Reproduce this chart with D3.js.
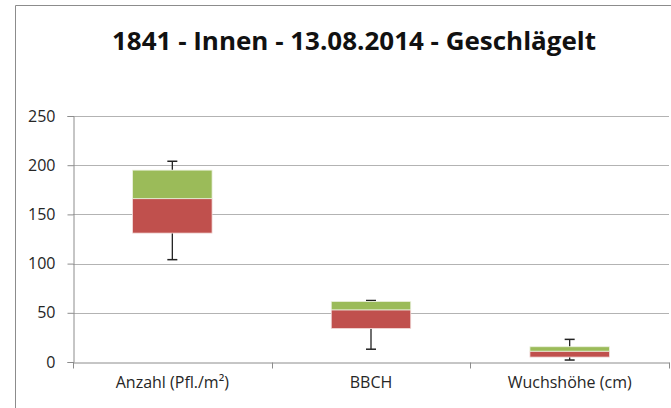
<!DOCTYPE html>
<html>
<head>
<meta charset="utf-8">
<script src="https://cdn.jsdelivr.net/npm/d3@7"></script>
<style>
  body { margin: 0; background: #fff; }
  text { font-family: "Open Sans", "Liberation Sans", sans-serif; }
</style>
</head>
<body>
<div id="chart-area"></div>
<script>
// data
var categories = ["Anzahl (Pfl./m²)", "BBCH", "Wuchshöhe (cm)"];
var minVals    = [104, 13, 2];
var q1Vals     = [131, 34, 5];
var medianVals = [166, 53, 11];
var q3Vals     = [195, 61.5, 15.5];
var maxVals    = [204, 62.5, 23];
var yTicks     = [0, 50, 100, 150, 200, 250];

var W = 671, H = 408;
var margin = { left: 73, right: 2, top: 116, bottom: 46 };
var width = W - margin.left - margin.right,
    height = H - margin.top - margin.bottom;

var svg = d3.select("#chart-area")
    .append("svg")
        .attr("width", W)
        .attr("height", H);

// chart frame
svg.append("path")
    .attr("d", "M15.5," + H + "V5.5H" + W)
    .attr("fill", "none")
    .attr("stroke", "#8c8c8c")
    .attr("stroke-width", 1);

// title
svg.append("text")
    .attr("x", 354)
    .attr("y", 50)
    .attr("text-anchor", "middle")
    .attr("font-size", "25px")
    .attr("font-weight", "bold")
    .attr("fill", "#111")
    .attr("textLength", 484)
    .attr("lengthAdjust", "spacingAndGlyphs")
    .text("1841 - Innen - 13.08.2014 - Geschlägelt");

var g = svg.append("g")
    .attr("transform", "translate(" + margin.left + "," + margin.top + ")");

// scales
var x = d3.scaleBand()
    .domain(categories)
    .range([0, width]);
var y = d3.scaleLinear()
    .domain([0, 250])
    .range([height, 0]);

// gridlines
g.selectAll(".grid").data(yTicks.slice(1)).enter()
    .append("line")
    .attr("class", "grid")
    .attr("x1", 0).attr("x2", width)
    .attr("y1", function(d){ return Math.round(y(d)) + 0.5; })
    .attr("y2", function(d){ return Math.round(y(d)) + 0.5; })
    .attr("stroke", "#b3b3b3");

// Y axis
var yAxis = g.append("g")
    .attr("transform", "translate(0.5,0)")
    .attr("font-size", 16)
    .attr("font-family", null)
    .call(d3.axisLeft(y).tickValues(yTicks).tickSize(6).tickPadding(12));
yAxis.attr("font-size", 16).attr("font-family", null);
yAxis.select(".domain").attr("stroke", "#8c8c8c");
yAxis.selectAll(".tick line").attr("stroke", "#8c8c8c");
yAxis.selectAll(".tick text").attr("fill", "#262626");

// X axis
var xAxis = g.append("g")
    .attr("transform", "translate(0," + (Math.round(height) + 0.5) + ")")
    .call(d3.axisBottom(x).tickSize(0).tickPadding(14));
xAxis.attr("font-size", 16).attr("font-family", null);
xAxis.select(".domain").attr("stroke", "#8c8c8c");
xAxis.selectAll(".tick text").attr("fill", "#262626");
// category separators
var seps = categories.map(function(c){ return x(c); }).concat([width]);
xAxis.selectAll(".sep").data(seps).enter()
    .append("line")
    .attr("class", "sep")
    .attr("x1", function(d){ return Math.round(d) + 0.5; })
    .attr("x2", function(d){ return Math.round(d) + 0.5; })
    .attr("y1", 0).attr("y2", 6)
    .attr("stroke", "#8c8c8c");

var boxW = x.bandwidth() * 0.4;
var rows = categories.map(function(c, i){
    return { cat: c, min: minVals[i], q1: q1Vals[i], med: medianVals[i], q3: q3Vals[i], max: maxVals[i] };
});

var box = g.selectAll(".box").data(rows).enter()
    .append("g")
    .attr("class", "box")
    .attr("transform", function(d){ return "translate(" + (x(d.cat) + x.bandwidth() / 2) + ",0)"; });

// whiskers
box.append("line")
    .attr("x1", 0).attr("x2", 0)
    .attr("y1", function(d){ return y(d.q1); })
    .attr("y2", function(d){ return y(d.min); })
    .attr("stroke", "#222").attr("stroke-width", 1.3);
box.append("line")
    .attr("x1", 0).attr("x2", 0)
    .attr("y1", function(d){ return y(d.q3); })
    .attr("y2", function(d){ return y(d.max); })
    .attr("stroke", "#222").attr("stroke-width", 1.3);
box.append("line")
    .attr("x1", -5).attr("x2", 5)
    .attr("y1", function(d){ return y(d.min); })
    .attr("y2", function(d){ return y(d.min); })
    .attr("stroke", "#222").attr("stroke-width", 1.5);
box.append("line")
    .attr("x1", -5).attr("x2", 5)
    .attr("y1", function(d){ return y(d.max); })
    .attr("y2", function(d){ return y(d.max); })
    .attr("stroke", "#222").attr("stroke-width", 1.5);

// lower box (Q1 - median)
box.append("rect")
    .attr("x", -boxW / 2)
    .attr("width", boxW)
    .attr("y", function(d){ return y(d.med); })
    .attr("height", function(d){ return y(d.q1) - y(d.med); })
    .attr("fill", "#c0504d")
    .attr("stroke", "#f2dcdb").attr("stroke-width", 0.8);

// upper box (median - Q3)
box.append("rect")
    .attr("x", -boxW / 2)
    .attr("width", boxW)
    .attr("y", function(d){ return y(d.q3); })
    .attr("height", function(d){ return y(d.med) - y(d.q3); })
    .attr("fill", "#9bbb59")
    .attr("stroke", "#ebf1de").attr("stroke-width", 0.8);
</script>
</body>
</html>
